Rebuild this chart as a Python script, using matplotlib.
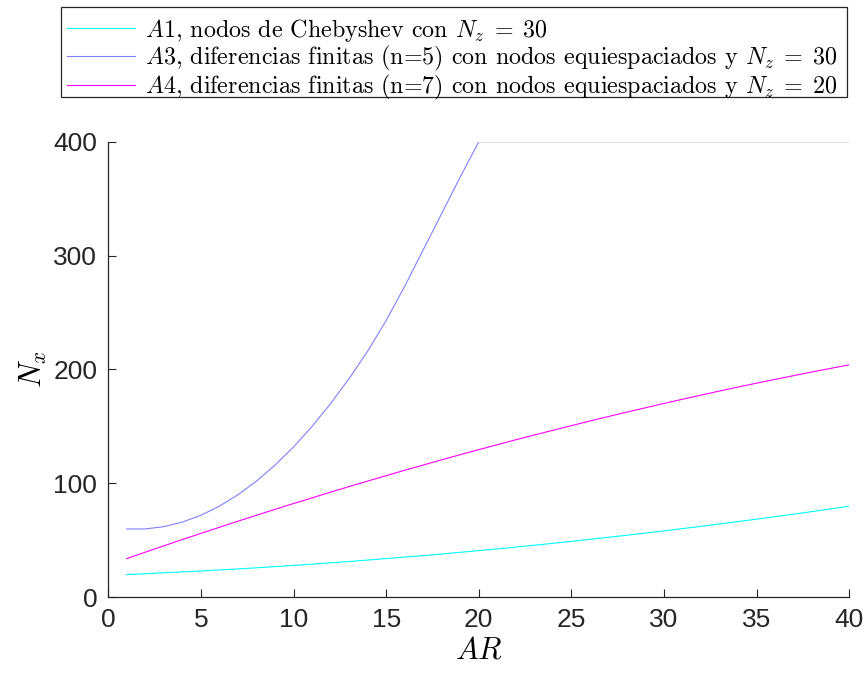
import matplotlib
matplotlib.use("Agg")
import matplotlib.pyplot as plt
from matplotlib.patches import Rectangle

# ------------------------------------------------------------------
# Data (Nx needed vs aspect ratio AR)
# ------------------------------------------------------------------
AR = list(range(1, 41))

NX_A1 = [20.0, 20.7, 21.5, 22.3, 23.1, 24.0, 24.9, 25.9, 26.9, 28.0,
         29.1, 30.3, 31.4, 32.7, 34.0, 35.3, 36.6, 38.0, 39.5, 41.0,
         42.5, 44.1, 45.7, 47.4, 49.1, 50.9, 52.7, 54.5, 56.4, 58.3,
         60.3, 62.3, 64.4, 66.5, 68.6, 70.8, 73.0, 75.3, 77.6, 80.0]

NX_A3 = [60, 60, 62, 66, 72, 80, 90, 102, 116, 132,
         150, 170, 192, 216, 243, 273, 305, 337, 369, 400,
         400, 400, 400, 400, 400, 400, 400, 400, 400, 400,
         400, 400, 400, 400, 400, 400, 400, 400, 400, 400]

NX_A4 = [34.0, 39.6, 45.2, 50.7, 56.1, 61.5, 66.8, 72.0, 77.2, 82.3,
         87.3, 92.3, 97.2, 102.0, 106.8, 111.5, 116.1, 120.7, 125.2, 129.6,
         134.0, 138.3, 142.5, 146.6, 150.7, 154.8, 158.7, 162.6, 166.4, 170.2,
         173.9, 177.5, 181.1, 184.6, 188.0, 191.3, 194.6, 197.9, 201.0, 204.1]

LABELS = [r"$A1$, nodos de Chebyshev con $N_z\;=\;30$",
          r"$A3$, diferencias finitas (n=5) con nodos equiespaciados y $N_z\;=\;30$",
          r"$A4$, diferencias finitas (n=7) con nodos equiespaciados y $N_z\;=\;20$"]
COLORS = ["#00FFFF", "#8080FF", "#FF00FF"]

plt.rcParams["mathtext.fontset"] = "cm"
AXCOL = "#262626"
W, H = 866, 674

fig = plt.figure(figsize=(W / 100, H / 100), dpi=100)
ax = fig.add_axes([0.125, 0.1138, 0.8557, 0.676])

for ys, c, lab in zip((NX_A1, NX_A3, NX_A4), COLORS, LABELS):
    ax.plot(AR, ys, color=c, linewidth=0.8, label=lab)

ax.set_xlim(0, 40)
ax.set_ylim(0, 400)
ax.set_xticks(range(0, 41, 5))
ax.set_yticks([0, 100, 200, 300, 400])
for s in ("top", "right"):
    ax.spines[s].set_visible(False)
for s in ("left", "bottom"):
    ax.spines[s].set_color(AXCOL)
    ax.spines[s].set_linewidth(0.9)
ax.tick_params(direction="in", length=5.5, width=0.8, colors=AXCOL,
               labelsize=19, pad=8)
for t in ax.get_xticklabels() + ax.get_yticklabels():
    t.set_fontfamily("Liberation Sans")

ax.set_xlabel(r"$AR$", fontsize=22, labelpad=2)
ax.set_ylabel(r"$N_x$", fontsize=22, labelpad=3)

# legend: entries placed by fig.legend, frame drawn as a fixed box
x0, x1 = 61 / W, 847 / W
top = 1 - 10.5 / H
leg = fig.legend(loc="upper left", bbox_to_anchor=(x0, top - 0.2, x1 - x0, 0.2),
                 mode="expand", handlelength=2.85, handletextpad=0.4,
                 labelspacing=0.0, borderpad=0.25, borderaxespad=0,
                 frameon=False, prop={"family": "cmr10", "size": 17.3})
fig.add_artist(Rectangle((x0, 1 - 96.7 / H), x1 - x0, 89.4 / H,
                         transform=fig.transFigure, fill=False,
                         edgecolor=AXCOL, linewidth=0.9))

fig.savefig("out.png", dpi=100)
